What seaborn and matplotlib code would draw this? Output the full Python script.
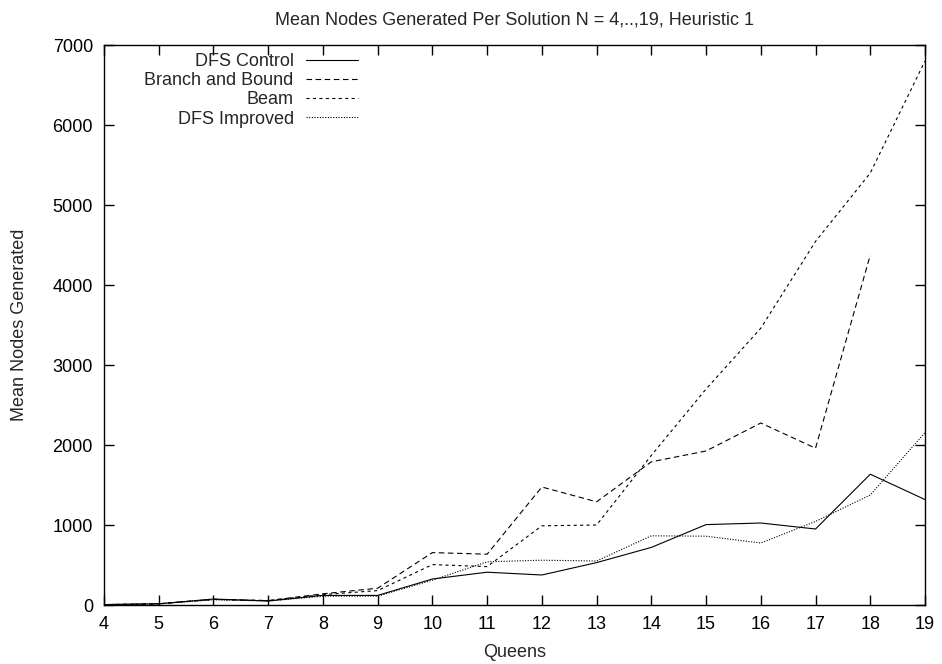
import numpy as np
import pandas as pd
import matplotlib
matplotlib.use("Agg")
import matplotlib.pyplot as plt
import seaborn as sns

queens = [4, 5, 6, 7, 8, 9, 10, 11, 12, 13, 14, 15, 16, 17, 18, 19]
dfs_control = [5, 15, 75, 50, 120, 120, 325, 410, 375, 530, 720, 1005, 1025, 950, 1635, 1318]
branch_bound = [5, 15, 70, 55, 140, 210, 655, 635, 1475, 1290, 1790, 1925, 2275, 1960, 4375, np.nan]
beam = [5, 15, 70, 55, 130, 180, 505, 480, 990, 1000, 1870, 2700, 3460, 4545, 5400, 6800]
dfs_improved = [5, 15, 65, 50, 110, 110, 310, 540, 560, 550, 865, 860, 775, 1045, 1375, 2155]

series_names = ["DFS Control", "Branch and Bound", "Beam", "DFS Improved"]
series_values = [dfs_control, branch_bound, beam, dfs_improved]

df = pd.concat(
    [pd.DataFrame({"Queens": queens, "Value": v, "Method": n})
     for n, v in zip(series_names, series_values)],
    ignore_index=True,
)

sns.set_style("ticks")
plt.rcParams["font.family"] = ["Liberation Sans", "DejaVu Sans"]

fig = plt.figure(figsize=(9.42, 6.64), dpi=100)
ax = fig.add_axes([104 / 942, 59 / 664, 821 / 942, 560 / 664])

dashes = {
    "DFS Control": "",
    "Branch and Bound": (5.0, 3.2),
    "Beam": (2.8, 3.0),
    "DFS Improved": (1.0, 1.4),
}
sns.lineplot(
    data=df, x="Queens", y="Value", hue="Method", style="Method",
    palette={n: "black" for n in series_names}, dashes=dashes,
    hue_order=series_names, style_order=series_names,
    linewidth=0.8, ax=ax, legend=True,
)

fs = 13
ax.set_xlim(4, 19)
ax.set_ylim(0, 7000)
ax.set_xticks(queens)
ax.set_yticks(np.arange(0, 7001, 1000))
ax.tick_params(direction="in", length=7, width=1, top=True, right=True,
               labelsize=fs, pad=8, colors="black")
for s in ax.spines.values():
    s.set_linewidth(1.0)
    s.set_color("black")
ax.set_xlabel("Queens", fontsize=fs, labelpad=8)
ax.set_ylabel("Mean Nodes Generated", fontsize=fs)
ax.yaxis.set_label_coords(-0.092, 0.5)
ax.set_title("Mean Nodes Generated Per Solution N = 4,..,19, Heuristic 1",
             fontsize=fs, pad=15)

handles, labels = ax.get_legend_handles_labels()
leg = ax.legend(handles, labels, loc="upper right",
                bbox_to_anchor=((358 - 104) / 821, (605 - 53) / 560),
                markerfirst=False, frameon=False, fontsize=fs,
                handlelength=2.9, handletextpad=0.66, labelspacing=0.12,
                borderaxespad=0.0, borderpad=0.0)
for line in leg.get_lines():
    line.set_linewidth(0.8)

fig.savefig("out.png", dpi=100)
